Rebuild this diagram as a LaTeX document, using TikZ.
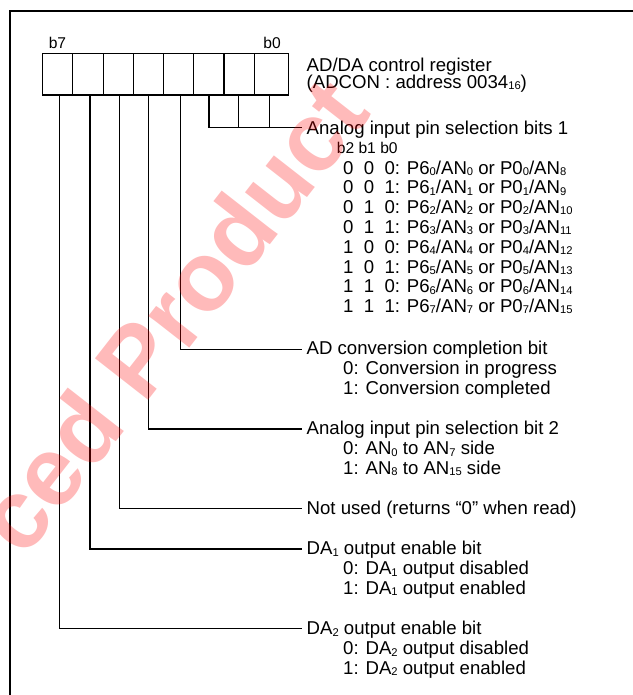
\documentclass[tikz,border=0pt]{standalone}
\usepackage{fontspec}
\setmainfont{Liberation Sans}
\newcommand\sbs[1]{\raisebox{-1.2pt}{\fontsize{11.2}{11}\selectfont #1}}
\newcommand\vals[3]{#1\hspace{0.556em}#2\hspace{0.556em}#3:}
\begin{document}
\begin{tikzpicture}[x=1pt,y=-1pt,
  lbl/.style={anchor=base west, inner sep=0pt, font=\fontsize{18.6}{20}\selectfont},
  bitlbl/.style={anchor=base, inner sep=0pt, font=\fontsize{15.6}{17}\selectfont},
  hdr/.style={anchor=base west, inner sep=0pt, font=\fontsize{15.6}{17}\selectfont},
  bitbox/.style={draw, line width=1.5pt, minimum height=41.7pt, inner sep=0pt},
  wire/.style={line width=1.4pt},
  frame/.style={line width=2.2pt},
  wmark/.style={rotate=52, anchor=base west, inner sep=0pt, text=red, opacity=0.27,
    font=\fontsize{98}{98}\selectfont\bfseries}]
\useasboundingbox (0,0) rectangle (632,695);
% frame (open at right and bottom)
\draw[frame] (10,700) -- (10,11.3) -- (640,11.3);
% register boxes
\node[bitbox, minimum width=30.4pt] (b7) at (57.5,74.15) {};
\node[bitbox, minimum width=30.6pt] (b6) at (88,74.15) {};
\node[bitbox, minimum width=30pt] (b5) at (118.3,74.15) {};
\node[bitbox, minimum width=30pt] (b4) at (148.3,74.15) {};
\node[bitbox, minimum width=30pt] (b3) at (178.3,74.15) {};
\node[bitbox, minimum width=30.7pt] (b2) at (208.65,74.15) {};
\node[bitbox, minimum width=30.3pt] (b1) at (239.15,74.15) {};
\node[bitbox, minimum width=34pt] (b0) at (271.3,74.15) {};
\node[bitlbl] (l7) at (57.5,48.1) {b7};
\node[bitlbl] (l0) at (272,48.1) {b0};
% title
\node[lbl] (title) at (306.5,71.5) {AD/DA control register};
\node[lbl] (addr) at (306.5,88.5) {(ADCON : address 0034\sbs{16})};
% bits 2..0
\node[lbl] (t0) at (306.5,134.6) {Analog input pin selection bits 1};
\node[hdr] (hd) at (336.7,153.9) {b2 b1 b0};
\node[lbl] (r0) at (343,174.1) {\vals000 P6\sbs{0}/AN\sbs{0} or P0\sbs{0}/AN\sbs{8}};
\node[lbl] (r1) at (343,193.9) {\vals001 P6\sbs{1}/AN\sbs{1} or P0\sbs{1}/AN\sbs{9}};
\node[lbl] (r2) at (343,213.7) {\vals010 P6\sbs{2}/AN\sbs{2} or P0\sbs{2}/AN\sbs{10}};
\node[lbl] (r3) at (343,233.5) {\vals011 P6\sbs{3}/AN\sbs{3} or P0\sbs{3}/AN\sbs{11}};
\node[lbl] (r4) at (343,253.3) {\vals100 P6\sbs{4}/AN\sbs{4} or P0\sbs{4}/AN\sbs{12}};
\node[lbl] (r5) at (343,273.1) {\vals101 P6\sbs{5}/AN\sbs{5} or P0\sbs{5}/AN\sbs{13}};
\node[lbl] (r6) at (343,292.9) {\vals110 P6\sbs{6}/AN\sbs{6} or P0\sbs{6}/AN\sbs{14}};
\node[lbl] (r7) at (343,312.7) {\vals111 P6\sbs{7}/AN\sbs{7} or P0\sbs{7}/AN\sbs{15}};
% bit 3
\node[lbl] (t3) at (306.5,354.9) {AD conversion completion bit};
\node[lbl] (t3a) at (343,374.9) {0: Conversion in progress};
\node[lbl] (t3b) at (343,394.9) {1: Conversion completed};
% bit 4
\node[lbl] (t4) at (306.5,434.9) {Analog input pin selection bit 2};
\node[lbl] (t4a) at (343,454.9) {0: AN\sbs{0} to AN\sbs{7} side};
\node[lbl] (t4b) at (343,474.4) {1: AN\sbs{8} to AN\sbs{15} side};
% bit 5
\node[lbl] (t5) at (306.5,514.9) {Not used (returns “0” when read)};
% bit 6
\node[lbl] (t6) at (306.5,554.9) {DA\sbs{1} output enable bit};
\node[lbl] (t6a) at (343,574.9) {0: DA\sbs{1} output disabled};
\node[lbl] (t6b) at (343,594.4) {1: DA\sbs{1} output enabled};
% bit 7
\node[lbl] (t7) at (306.5,634.9) {DA\sbs{2} output enable bit};
\node[lbl] (t7a) at (343,654.9) {0: DA\sbs{2} output disabled};
\node[lbl] (t7b) at (343,674.1) {1: DA\sbs{2} output enabled};
% connector end points
\coordinate (e0) at (302,127.3);
\coordinate (e3) at (302,349.3);
\coordinate (e4) at (302,429);
\coordinate (e5) at (302,508.3);
\coordinate (e6) at (302,548.8);
\coordinate (e7) at (302,628.5);
% connectors
\draw[wire] ([xshift=0.35pt]b2.south) |- (e0);
\draw[wire] ([xshift=-0.45pt]b1.south) -- ([xshift=-0.45pt]b1.south |- e0);
\draw[wire] ([xshift=-2pt]b0.south) -- ([xshift=-2pt]b0.south |- e0);
\draw[wire] ([xshift=2pt]b3.south) |- (e3);
\draw[wire] ([xshift=0.4pt]b4.south) |- (e4);
\draw[wire] ([xshift=0.9pt]b5.south) |- (e5);
\draw[wire] ([xshift=2pt]b6.south) |- (e6);
\draw[wire] ([xshift=1.8pt]b7.south) |- (e7);
% watermark
\node[wmark] (wm) at (24,560) {ced Product};
\end{tikzpicture}
\end{document}
